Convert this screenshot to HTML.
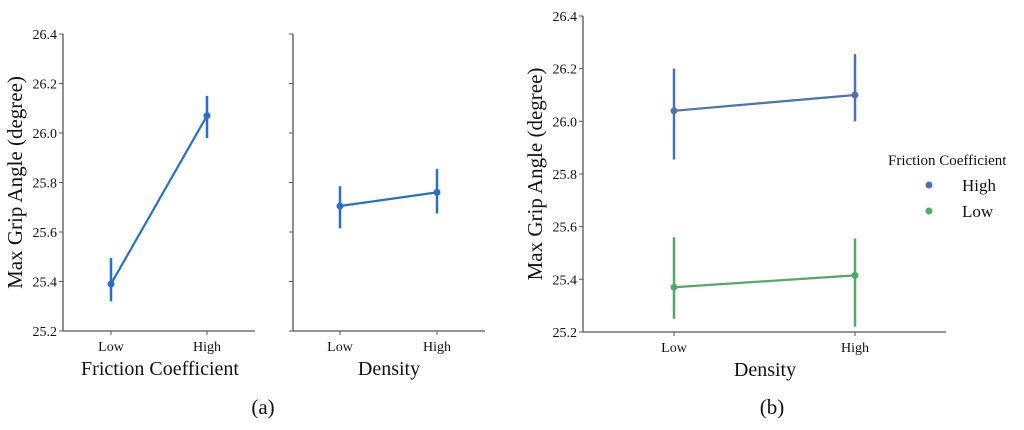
<!DOCTYPE html>
<html><head><meta charset="utf-8"><style>
body{margin:0;background:#fff}
svg{font-family:"Liberation Serif",serif}
</style></head><body>
<svg id="c" width="1024" height="425"></svg>
<script>
const cats=["Low","High"];
const yTicks=[25.2,25.4,25.6,25.8,26.0,26.2,26.4];
const fricMean=[25.39,26.07], fricLo=[25.32,25.98], fricHi=[25.495,26.15];
const densMean=[25.705,25.76], densLo=[25.615,25.675], densHi=[25.785,25.855];
const bHighMean=[26.04,26.10], bHighLo=[25.855,26.0], bHighHi=[26.2,26.255];
const bLowMean=[25.37,25.415], bLowLo=[25.25,25.22], bLowHi=[25.56,25.555];
const svg=document.getElementById('c');
const NS='http://www.w3.org/2000/svg';
function el(t,a,txt,name){const e=document.createElementNS(NS,t);for(const k in a)e.setAttribute(k,a[k]);if(txt!=null)e.textContent=txt;


svg.appendChild(e);return e;}
function axes(o){
 const y=v=>o.y0+(v-25.2)/(1.2)*(o.y1-o.y0);
 const x=i=>o.xs[i];
 el('line',{x1:o.ax,y1:o.y1,x2:o.ax,y2:o.y0,stroke:'#555','stroke-width':1.3},null,o.p+'-y-axis');
 el('line',{x1:o.ax,y1:o.y0,x2:o.axEnd,y2:o.y0,stroke:'#555','stroke-width':1.3},null,o.p+'-x-axis');
 yTicks.forEach(t=>{el('line',{x1:o.ax-4,y1:y(t),x2:o.ax,y2:y(t),stroke:'#555','stroke-width':1},null,o.p+'-y-tick');
  if(o.labels)el('text',{x:o.ax-6,y:y(t)+5,'text-anchor':'end','font-size':14,fill:'#111'},t.toFixed(1),o.p+'-y-tick-label');});
 cats.forEach((c,i)=>{el('line',{x1:x(i),y1:o.y0,x2:x(i),y2:o.y0+4,stroke:'#555','stroke-width':1},null,o.p+'-x-tick');
  el('text',{x:x(i),y:o.y0+20,'text-anchor':'middle','font-size':14,fill:'#111'},c,o.p+'-x-tick-label');});
 el('text',{x:o.xt,y:o.y0+44,'text-anchor':'middle','font-size':20,fill:'#111'},o.title,o.p+'-x-axis-title');
 if(o.ytitle)el('text',{x:0,y:0,transform:`translate(${o.ax-41},${(o.y0+o.y1)/2}) rotate(-90)`,'text-anchor':'middle','font-size':21,fill:'#111'},'Max Grip Angle (degree)',o.p+'-y-axis-title');
 return {x,y};
}
function series(s,m,lo,hi,col,name){
 el('polyline',{points:m.map((v,i)=>s.x(i)+','+s.y(v)).join(' '),fill:'none',stroke:col,'stroke-width':2.2},null,name+'-line');
 m.forEach((v,i)=>{el('line',{x1:s.x(i),y1:s.y(lo[i]),x2:s.x(i),y2:s.y(hi[i]),stroke:col,'stroke-width':2.5},null,name+'-error-bar');
  el('circle',{cx:s.x(i),cy:s.y(v),r:3.5,fill:col},null,name+'-point');});
}
const a1=axes({p:'fric',ax:63,axEnd:255,y0:331,y1:34,xs:[111,207],labels:true,ytitle:true,title:'Friction Coefficient',xt:160});
series(a1,fricMean,fricLo,fricHi,'#2a6fc4','fric');
const a2=axes({p:'dens',ax:293,axEnd:485,y0:331,y1:34,xs:[340,437],labels:false,title:'Density',xt:389});
series(a2,densMean,densLo,densHi,'#2a6fc4','dens');
const b=axes({p:'b',ax:583,axEnd:946,y0:332,y1:16,xs:[674,855],labels:true,ytitle:true,title:'Density',xt:765});
series(b,bHighMean,bHighLo,bHighHi,'#4c72b0','b-high');
series(b,bLowMean,bLowLo,bLowHi,'#55a868','b-low');
el('text',{x:888,y:165,'font-size':15,fill:'#111'},'Friction Coefficient','legend-title');
el('circle',{cx:929,cy:185,r:3.5,fill:'#4c72b0'},null,'legend-high-marker');
el('text',{x:962,y:191,'font-size':17,fill:'#111'},'High','legend-high-label');
el('circle',{cx:929,cy:211,r:3.5,fill:'#55a868'},null,'legend-low-marker');
el('text',{x:962,y:217,'font-size':17,fill:'#111'},'Low','legend-low-label');
el('text',{x:263,y:414,'text-anchor':'middle','font-size':21,fill:'#111'},'(a)','caption-a');
el('text',{x:772,y:414,'text-anchor':'middle','font-size':21,fill:'#111'},'(b)','caption-b');
</script>
</body></html>
